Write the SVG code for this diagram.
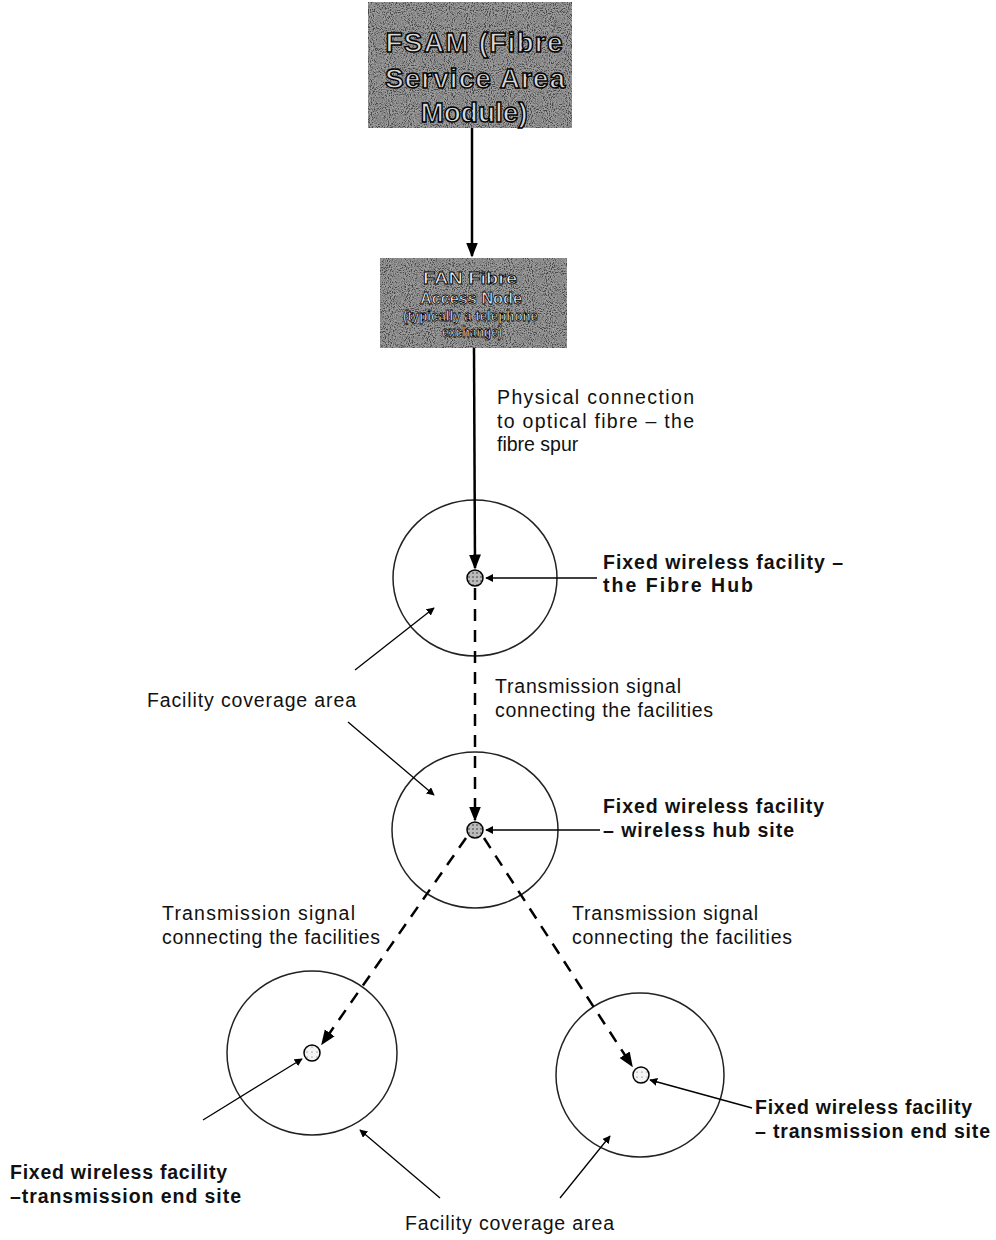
<svg xmlns="http://www.w3.org/2000/svg" width="996" height="1240" viewBox="0 0 996 1240">
<defs>
<filter id="grain" x="0" y="0" width="100%" height="100%">
<feTurbulence type="fractalNoise" baseFrequency="0.95" numOctaves="2" seed="3" result="n"/>
<feColorMatrix in="n" type="matrix" values="3 0 0 0 -1  3 0 0 0 -1  3 0 0 0 -1  0 0 0 0 0.35" result="g"/>
<feComposite in="g" in2="SourceGraphic" operator="in"/>
</filter>
<marker id="ah" viewBox="0 0 10 10" refX="9" refY="5" markerWidth="8" markerHeight="8" markerUnits="userSpaceOnUse" orient="auto">
<path d="M0,0 L10,5 L0,10 Z" fill="#000"/>
</marker>
<marker id="ahb" viewBox="0 0 10 10" refX="9" refY="5" markerWidth="15" markerHeight="15" markerUnits="userSpaceOnUse" orient="auto">
<path d="M0,1 L10,5 L0,9 Z" fill="#000"/>
</marker>
<pattern id="dots" width="4" height="4" patternUnits="userSpaceOnUse">
<rect width="4" height="4" fill="#bbb"/>
<circle cx="1" cy="1" r="0.8" fill="#333"/>
</pattern>
<pattern id="ldots" width="5" height="5" patternUnits="userSpaceOnUse">
<rect width="5" height="5" fill="#f4f4f4"/>
<circle cx="2" cy="2" r="0.6" fill="#555"/>
</pattern>
</defs>
<style>
.box{fill:#6e6e6e;}
.title{font-family:"Liberation Sans",Arial,sans-serif;font-weight:bold;fill:#d8d8d8;stroke:#000;stroke-width:1.4;text-anchor:middle;}
.ftxt{font-family:"Liberation Sans",Arial,sans-serif;font-weight:bold;fill:#f0f0f0;stroke:#000;stroke-width:0.8;}
.lbl{font-family:"Liberation Sans",Arial,sans-serif;font-size:19.5px;fill:#111;}
.bold{font-weight:bold;}
.circ{fill:none;stroke:#222;stroke-width:1.5;}
.solid{stroke:#000;stroke-width:2.5;fill:none;}
.thin{stroke:#000;stroke-width:1.3;fill:none;}
.dash{stroke:#000;stroke-width:2.5;fill:none;stroke-dasharray:12 9;}
.dot{stroke:#000;stroke-width:1.5;}
</style>

<g id="fsam">
<rect class="box" x="368" y="2" width="204" height="126"/>
<rect x="368" y="2" width="204" height="126" fill="#999" filter="url(#grain)"/>
<text class="title" font-size="28" x="474" y="52" textLength="177" lengthAdjust="spacing">FSAM (Fibre</text>
<text class="title" font-size="28" x="475" y="88" textLength="180" lengthAdjust="spacing">Service Area</text>
<text class="title" font-size="28" x="474" y="122" textLength="107" lengthAdjust="spacing">Module)</text>
</g>

<g id="fan">
<rect class="box" x="380" y="258" width="187" height="90"/>
<rect x="380" y="258" width="187" height="90" fill="#999" filter="url(#grain)"/>
<text class="ftxt" font-size="17" x="423" y="284" textLength="94" lengthAdjust="spacingAndGlyphs">FAN  Fibre</text>
<text class="ftxt" font-size="17" x="420" y="304" textLength="102" lengthAdjust="spacingAndGlyphs">Access Node</text>
<text class="ftxt" font-size="15" x="403" y="321" textLength="135" lengthAdjust="spacingAndGlyphs">(typically a telephone</text>
<text class="ftxt" font-size="15" x="442" y="337" textLength="60" lengthAdjust="spacingAndGlyphs">exchange)</text>
</g>

<g id="hub-circle"><ellipse class="circ" cx="475" cy="578" rx="82" ry="78"/></g>
<g id="wireless-hub-circle"><ellipse class="circ" cx="475" cy="830" rx="83" ry="78"/></g>
<g id="end-left-circle"><ellipse class="circ" cx="312" cy="1053" rx="85" ry="82"/></g>
<g id="end-right-circle"><ellipse class="circ" cx="640" cy="1075" rx="84" ry="82"/></g>

<g id="connectors">
<line class="solid" x1="472" y1="128" x2="472" y2="256" marker-end="url(#ahb)"/>
<line class="solid" x1="474" y1="348" x2="475" y2="568" marker-end="url(#ahb)"/>
<line class="dash" x1="475" y1="588" x2="475" y2="820" marker-end="url(#ahb)"/>
<line class="dash" x1="466" y1="838" x2="322" y2="1044" marker-end="url(#ahb)"/>
<line class="dash" x1="484" y1="838" x2="632" y2="1066" marker-end="url(#ahb)"/>
<line class="thin" x1="597" y1="578" x2="486" y2="578" marker-end="url(#ah)"/>
<line class="thin" x1="600" y1="830" x2="486" y2="830" marker-end="url(#ah)"/>
<line class="thin" x1="355" y1="670" x2="434" y2="608" marker-end="url(#ah)"/>
<line class="thin" x1="348" y1="722" x2="434" y2="795" marker-end="url(#ah)"/>
<line class="thin" x1="203" y1="1120" x2="302" y2="1059" marker-end="url(#ah)"/>
<line class="thin" x1="752" y1="1108" x2="650" y2="1080" marker-end="url(#ah)"/>
<line class="thin" x1="440" y1="1198" x2="360" y2="1130" marker-end="url(#ah)"/>
<line class="thin" x1="560" y1="1198" x2="610" y2="1136" marker-end="url(#ah)"/>
</g>

<g id="fibre-hub-dot"><circle class="dot" cx="475" cy="578" r="8" fill="url(#dots)"/></g>
<g id="wireless-hub-dot"><circle class="dot" cx="475" cy="830" r="8" fill="url(#dots)"/></g>
<g id="end-left-dot"><circle class="dot" cx="312" cy="1053" r="8" fill="url(#ldots)"/></g>
<g id="end-right-dot"><circle class="dot" cx="641" cy="1075" r="8" fill="url(#ldots)"/></g>

<g id="labels">
<text class="lbl" x="497" y="404" textLength="197" lengthAdjust="spacing">Physical  connection</text>
<text class="lbl" x="497" y="428" textLength="197" lengthAdjust="spacing">to  optical  fibre  –  the</text>
<text class="lbl" x="497" y="451">fibre spur</text>
<text class="lbl bold" x="603" y="569" textLength="240" lengthAdjust="spacing">Fixed wireless facility –</text>
<text class="lbl bold" x="603" y="592" textLength="150" lengthAdjust="spacing">the Fibre Hub</text>
<text class="lbl" x="495" y="693" textLength="186" lengthAdjust="spacing">Transmission signal</text>
<text class="lbl" x="495" y="717" textLength="218" lengthAdjust="spacing">connecting the facilities</text>
<text class="lbl" x="147" y="707" textLength="209" lengthAdjust="spacing">Facility coverage area</text>
<text class="lbl bold" x="603" y="813" textLength="221" lengthAdjust="spacing">Fixed wireless facility</text>
<text class="lbl bold" x="603" y="837" textLength="191" lengthAdjust="spacing">– wireless hub site</text>
<text class="lbl" x="162" y="920" textLength="193" lengthAdjust="spacing">Transmission signal</text>
<text class="lbl" x="162" y="944" textLength="218" lengthAdjust="spacing">connecting the facilities</text>
<text class="lbl" x="572" y="920" textLength="186" lengthAdjust="spacing">Transmission signal</text>
<text class="lbl" x="572" y="944" textLength="220" lengthAdjust="spacing">connecting the facilities</text>
<text class="lbl bold" x="755" y="1114" textLength="217" lengthAdjust="spacing">Fixed wireless facility</text>
<text class="lbl bold" x="755" y="1138" textLength="235" lengthAdjust="spacing">– transmission end site</text>
<text class="lbl bold" x="10" y="1179" textLength="217" lengthAdjust="spacing">Fixed wireless facility</text>
<text class="lbl bold" x="10" y="1203" textLength="231" lengthAdjust="spacing">–transmission end site</text>
<text class="lbl" x="405" y="1230" textLength="209" lengthAdjust="spacing">Facility coverage area</text>
</g>
</svg>
